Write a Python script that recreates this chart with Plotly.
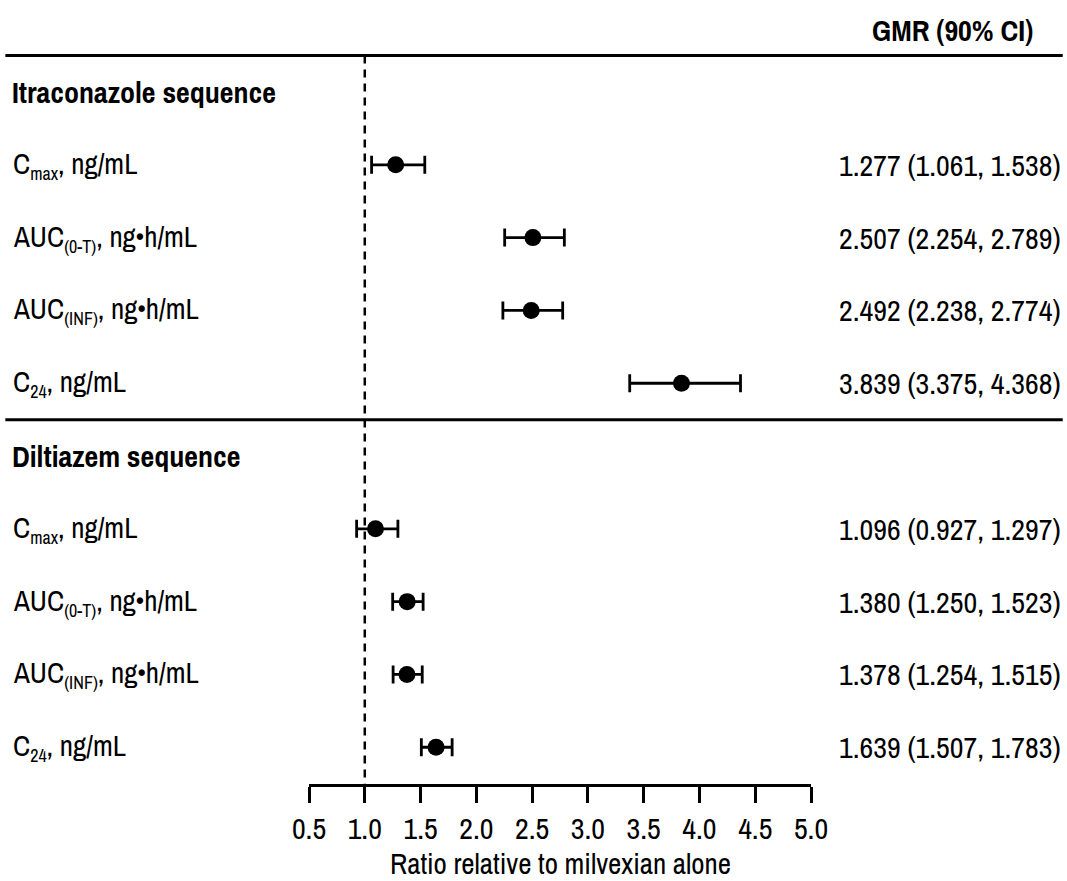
import plotly.graph_objects as go

W, H = 1067, 881

# ---- data ----
group_names = ["Itraconazole sequence", "Diltiazem sequence"]
SUB = "<sub><span style='font-size:18px'>%s</span></sub>"
param_labels = [
    "C" + SUB % "max" + ", ng/mL",
    "AUC" + SUB % "(0-T)" + ", ng\u2022h/mL",
    "AUC" + SUB % "(INF)" + ", ng\u2022h/mL",
    "C" + SUB % "24" + ", ng/mL",
]
itra_gmr = [1.277, 2.507, 2.492, 3.839]
itra_lo = [1.061, 2.254, 2.238, 3.375]
itra_hi = [1.538, 2.789, 2.774, 4.368]
dilt_gmr = [1.096, 1.380, 1.378, 1.639]
dilt_lo = [0.927, 1.250, 1.254, 1.507]
dilt_hi = [1.297, 1.523, 1.515, 1.783]
tick_vals = [0.5, 1.0, 1.5, 2.0, 2.5, 3.0, 3.5, 4.0, 4.5, 5.0]
tick_text = ["0.5", "1.0", "1.5", "2.0", "2.5", "3.0", "3.5", "4.0", "4.5", "5.0"]
ref_value = 1.0
x_title = "Ratio relative to milvexian alone"
col_header = "GMR (90% CI)"

FONT = "Archivo Narrow, Roboto Condensed, DejaVu Sans Condensed, sans-serif"
FS = 30

rows_y = []
rows_gmr, rows_lo, rows_hi, rows_lab = [], [], [], []
header_y = []
idx = 0
for g, (gm, lo, hi) in enumerate([(itra_gmr, itra_lo, itra_hi), (dilt_gmr, dilt_lo, dilt_hi)]):
    header_y.append(idx)
    idx += 1
    for k in range(len(gm)):
        rows_y.append(idx)
        rows_gmr.append(gm[k]); rows_lo.append(lo[k]); rows_hi.append(hi[k]); rows_lab.append(param_labels[k])
        idx += 1

fig = go.Figure()
fig.add_trace(go.Scatter(
    x=rows_gmr, y=rows_y, mode="markers",
    marker=dict(symbol="circle", size=17, color="black"),
    error_x=dict(type="data", symmetric=False,
                 array=[h - m for h, m in zip(rows_hi, rows_gmr)],
                 arrayminus=[m - l for m, l in zip(rows_gmr, rows_lo)],
                 color="black", thickness=2.8, width=9),
    showlegend=False, hoverinfo="skip",
))

annotations = []
for g, yv in enumerate(header_y):
    annotations.append(dict(x=0.009, y=yv, xref="paper", yref="y", text="<b>%s</b>" % group_names[g],
                            showarrow=False, xanchor="left", yanchor="middle",
                            font=dict(family=FONT, size=FS, color="black")))
for yv, lab, m, l, h in zip(rows_y, rows_lab, rows_gmr, rows_lo, rows_hi):
    annotations.append(dict(x=0.010, y=yv, xref="paper", yref="y", text=lab,
                            showarrow=False, xanchor="left", yanchor="middle",
                            font=dict(family=FONT, size=29, color="black")))
    annotations.append(dict(x=0.996, y=yv, xref="paper", yref="y",
                            text="%.3f (%.3f, %.3f)" % (m, l, h),
                            showarrow=False, xanchor="right", yanchor="middle",
                            font=dict(family=FONT, size=FS, color="black")))
annotations.append(dict(x=1035 / W, y=1 - 30 / 784, xref="paper", yref="paper", text="<b>%s</b>" % col_header,
                        showarrow=False, xanchor="right", yanchor="middle",
                        font=dict(family=FONT, size=FS, color="black")))
annotations.append(dict(x=2.75, y=-(864 - 784) / 784, xref="x", yref="paper", text=x_title,
                        showarrow=False, xanchor="center", yanchor="middle",
                        font=dict(family=FONT, size=29, color="black")))

shapes = [
    dict(type="line", xref="paper", yref="y", x0=0.005, x1=0.996, y0=-0.5, y1=-0.5,
         line=dict(color="black", width=3)),
    dict(type="line", xref="paper", yref="y", x0=0.005, x1=0.996, y0=4.5, y1=4.5,
         line=dict(color="black", width=3)),
    dict(type="line", xref="x", yref="y", x0=ref_value, x1=ref_value, y0=-0.5, y1=9.5,
         line=dict(color="black", width=2.5, dash="8px,6px"), layer="below"),
]

fig.update_layout(
    width=W, height=H,
    margin=dict(l=0, r=0, t=0, b=97, autoexpand=False),
    paper_bgcolor="white", plot_bgcolor="white",
    xaxis=dict(domain=[309 / W, 811 / W], range=[0.5, 5.0],
               tickvals=tick_vals, ticktext=tick_text,
               showline=True, linecolor="black", linewidth=2.5,
               ticks="outside", ticklen=16, tickwidth=2.5, tickcolor="black",
               showgrid=False, zeroline=False, automargin=False,
               tickfont=dict(family=FONT, size=FS, color="black")),
    yaxis=dict(range=[9.505, -1.264], visible=False, showgrid=False, zeroline=False),
    annotations=annotations, shapes=shapes,
)

fig.write_html("out.html")
